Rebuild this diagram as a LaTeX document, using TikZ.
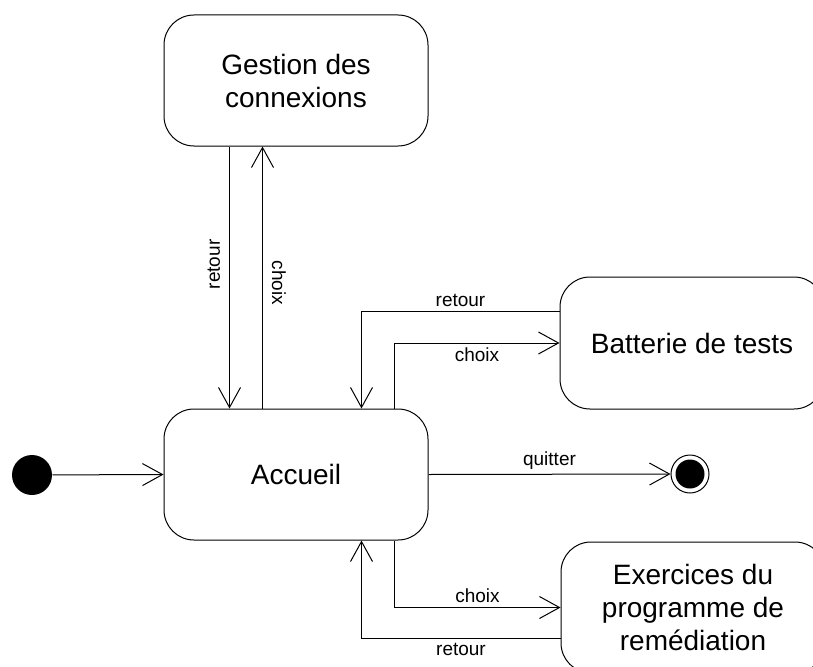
\documentclass[tikz,border=0pt]{standalone}
\usepackage{fontspec}
\setmainfont{Liberation Sans}
\usepackage{tikz}
\usetikzlibrary{arrows.meta}

\begin{document}
\begin{tikzpicture}[x=1pt,y=-1pt,line width=1pt,>={Straight Barb[length=20pt,width=22pt,line width=1pt]},etat/.style={draw,rounded corners=30pt,minimum width=264pt,minimum height=131pt,align=center,font=\fontsize{28}{33}\selectfont,inner sep=0pt},lbl/.style={font=\fontsize{19}{22}\selectfont,inner sep=4pt}]
\useasboundingbox (0,0) rectangle (813,666);
\clip (0,0) rectangle (813,666);
\node[etat] (gestion) at (296,80.5) {Gestion des\\connexions};
\node[etat] (accueil) at (296,474.5) {Accueil};
\node[etat,minimum height=132pt] (batterie) at (692,343) {Batterie de tests};
\node[etat] (exercices) at (693,607.5) {Exercices du\\programme de\\remédiation};
\node[circle,fill,minimum size=40pt,inner sep=0pt] (init) at (32,475) {};
\node[circle,draw,minimum size=38pt,inner sep=0pt] (fin) at (690,474) {};
\node[circle,fill,minimum size=29pt,inner sep=0pt] (finin) at (690,474) {};
% transitions
\draw[->] (init) -- (accueil.west);
\draw[->] (accueil.east) -- node[lbl,above,pos=0.5]{quitter} (fin.west);
\draw[->] ([xshift=66pt]gestion.south west) -- node[lbl,rotate=90,anchor=south,inner sep=9pt,pos=0.45]{retour} ([xshift=66pt]accueil.north west);
\draw[->] ([xshift=99pt]accueil.north west) -- node[lbl,rotate=-90,anchor=south,inner sep=9pt,pos=0.48]{choix} ([xshift=99pt]gestion.south west);
\draw[->] ([yshift=32pt]batterie.west) -| node[lbl,above,pos=0.25]{retour} ([xshift=198pt]accueil.north west);
\draw[->] ([xshift=231pt]accueil.north west) |- node[lbl,below,pos=0.75]{choix} (batterie.west);
\draw[->] ([xshift=231pt]accueil.south west) |- node[lbl,above,pos=0.75]{choix} (exercices.west);
\draw[->] ([yshift=-31pt]exercices.west) -| node[lbl,below,pos=0.25]{retour} ([xshift=198pt]accueil.south west);
\end{tikzpicture}
\end{document}
